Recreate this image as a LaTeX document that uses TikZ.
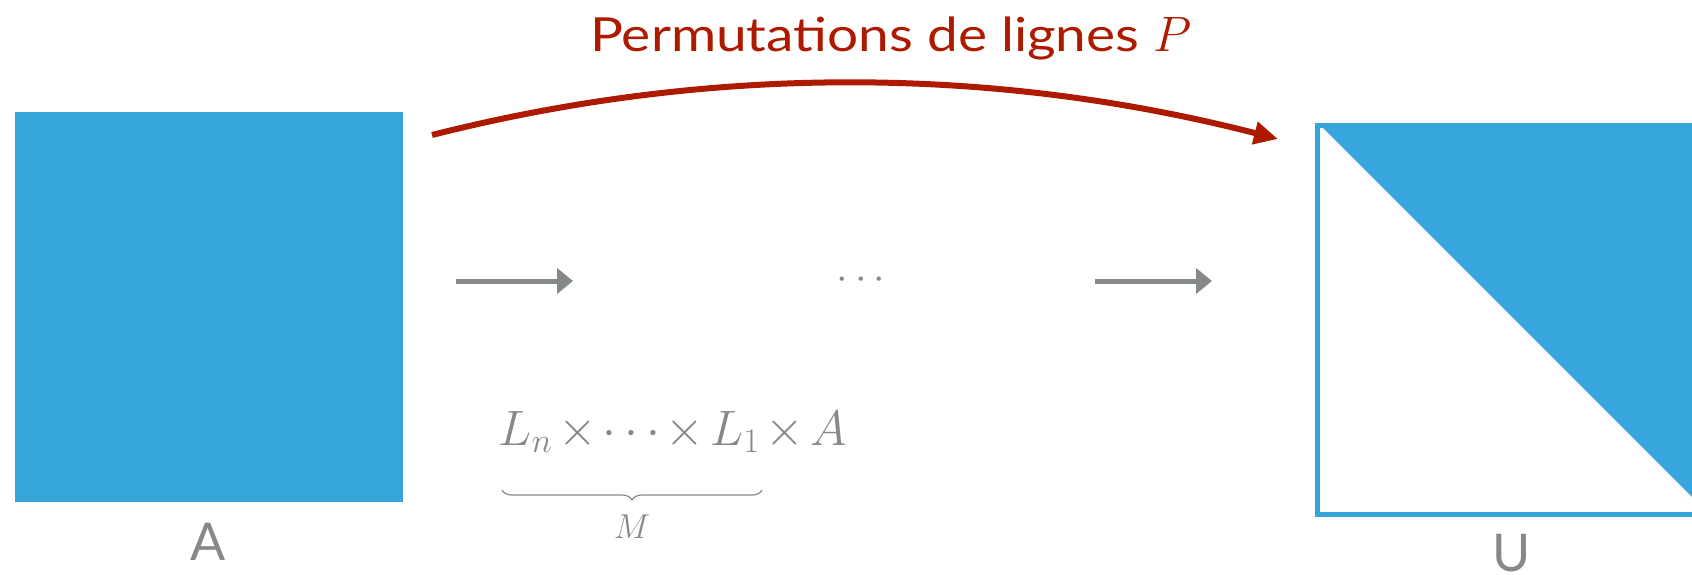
\documentclass[tikz,border=0pt]{standalone}
\usepackage{fontspec}
\setsansfont{Lato}
\newfontfamily\titlefont{Lato}[FakeStretch=1.17]
\usetikzlibrary{arrows.meta,decorations.pathreplacing}
\definecolor{mblue}{HTML}{35A5DB}
\definecolor{mred}{HTML}{AE1A00}
\definecolor{mgray}{HTML}{868989}
\begin{document}
\begin{tikzpicture}[x=0.5pt,y=-0.5pt,
  grayarrow/.style={draw=mgray,line width=2.5pt,-{Triangle[length=8pt,width=12.5pt]}},
  redarrow/.style={draw=mred,line width=3pt,-{Triangle[length=12pt,width=11pt]}},
  lbl/.style={font=\sffamily\fontsize{26}{30}\selectfont,text=mgray,inner sep=0pt}]
\useasboundingbox (0,0) rectangle (1692,574);
% matrix A
\node[fill=mblue,minimum width=194pt,minimum height=195pt,inner sep=0pt] (A) at (209,307) {};
\node[lbl] (Alab) at (208,542) {A};
% matrix U
\node[draw=mblue,line width=2.5pt,minimum width=196.5pt,minimum height=194.5pt,inner sep=0pt] (U) at (1514,320) {};
\fill[mblue] (1323,128) -- (1708,128) -- (1708,513) -- cycle;
\node[lbl] (Ulab) at (1512,553) {U};
% title
\node[text=mred,font=\titlefont\fontsize{23.5}{28}\selectfont,inner sep=0pt] (title) at (891,38) {Permutations de lignes $P$};
% red arc
\coordinate (r1) at (432,135);
\coordinate (r2) at (1278,139);
\draw[redarrow] (r1) .. controls (712,64) and (994,66) .. (r2);
% gray arrows
\coordinate (g1) at (456,281);
\coordinate (g2) at (573,281);
\coordinate (g3) at (1095,281);
\coordinate (g4) at (1212,281);
\draw[grayarrow] (g1) -- (g2);
\draw[grayarrow] (g3) -- (g4);
\node[text=mgray,font=\fontsize{21}{24}\selectfont,inner sep=0pt] (dots) at (861,280) {$\cdots$};
% formula
\node[text=mgray,font=\fontsize{24}{29}\selectfont,inner sep=0pt,anchor=base west] (F) at (498,445) {$\medmuskip=2mu L_n\times\cdots\times L_1\times A$};
\coordinate (b1) at (502,490);
\coordinate (b2) at (762,490);
\draw[mgray,line width=0.6pt,decorate,decoration={brace,mirror,amplitude=5pt}] (b1) -- (b2);
\node[text=mgray,font=\fontsize{17}{20}\selectfont,inner sep=0pt] (M) at (632,527) {$M$};
\end{tikzpicture}
\end{document}
